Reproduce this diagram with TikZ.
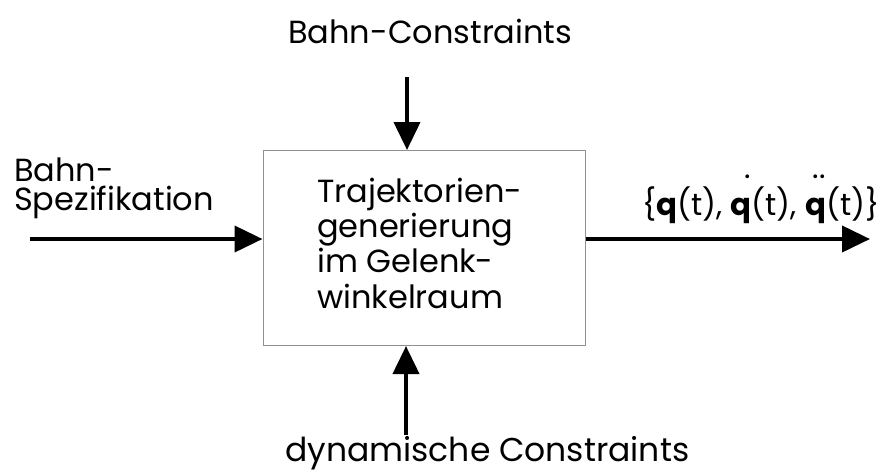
\documentclass[tikz,border=0pt]{standalone}
\usepackage{fontspec}
\setmainfont{Poppins}
\usetikzlibrary{arrows.meta}
\definecolor{boxgray}{HTML}{909090}
\newcommand\qacc[1]{\setbox0\hbox{\bfseries q}\rlap{\hbox to\wd0{\hss\raisebox{37pt}{#1}\hspace{0.02em}}}\box0}
\begin{document}
\begin{tikzpicture}[x=1pt,y=-1pt,
  arr/.style={line width=4pt,-{Triangle[length=28pt,width=26pt]}},
  lbl/.style={inner sep=0pt,anchor=base west},
  boxstyle/.style={draw=boxgray,line width=1pt,minimum width=322pt,minimum height=195pt,inner sep=0pt}]
\useasboundingbox (0,0) rectangle (888,475);
\node[boxstyle] (box) at (424,248) {};
\node[lbl,align=left,font=\fontsize{32}{35.3}\selectfont] (boxtxt) at (317,308) {Trajektorien-\\generierung\\im Gelenk-\\winkelraum};
\node[lbl,font=\fontsize{32}{34}\selectfont] (topl) at (288,43) {Bahn-Constraints};
\node[lbl,font=\fontsize{33}{34}\selectfont] (botl) at (285,461) {dynamische Constraints};
\node[lbl,align=left,font=\fontsize{32}{29}\selectfont] (left) at (14,210) {Bahn-\\Spezifikation};
\node[lbl,font=\fontsize{30.8}{32}\selectfont] (right) at (642,215) {\{\textbf{q}(t), \qacc{.}(t), \qacc{..}(t)\}};
\coordinate (tin) at (407,77);
\coordinate (bin) at (406,435);
\coordinate (lin) at (30,239);
\coordinate (rout) at (870,239);
\draw[arr] (tin) -- (tin |- box.north);
\draw[arr] (bin) -- (bin |- box.south);
\draw[arr] (lin) -- (lin -| box.west);
\draw[arr] (lin -| box.east) -- (rout);
\end{tikzpicture}
\end{document}
